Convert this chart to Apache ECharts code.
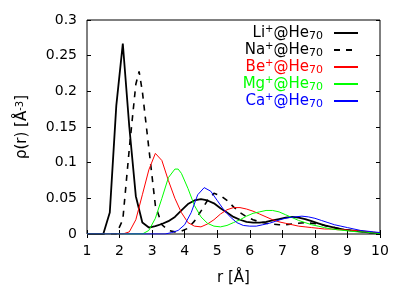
<!DOCTYPE html>
<html><head><meta charset="utf-8">
<script src="https://cdn.jsdelivr.net/npm/echarts@6/dist/echarts.min.js"></script>
<style>html,body{margin:0;padding:0;background:#fff}#c{width:409px;height:286px}</style>
</head><body><div id="c"></div>
<script>
// ---- data ----
const xTicks = [1, 2, 3, 4, 5, 6, 7, 8, 9, 10];
const yTicks = [0, 0.05, 0.1, 0.15, 0.2, 0.25, 0.3];

const rLi   = [1.0,1.5,1.7,1.9,2.1,2.3,2.5,2.7,2.9,3.1,3.3,3.5,3.7,3.9,4.1,4.3,4.5,4.7,4.9,5.1,5.3,5.5,5.7,5.9,6.1,6.3,6.5,6.7,6.9,7.1,7.3,7.5,7.7,7.9,8.1,8.3,8.5,8.7,8.9,9.1,9.3,9.5,9.7,10.0];
const rhoLi = [0,0,0.03,0.18,0.267,0.15,0.053,0.016,0.009,0.011,0.014,0.018,0.024,0.033,0.042,0.047,0.049,0.047,0.043,0.036,0.030,0.024,0.020,0.017,0.016,0.016,0.017,0.019,0.021,0.023,0.024,0.023,0.021,0.018,0.015,0.012,0.010,0.008,0.006,0.005,0.004,0.003,0.002,0.001];

const rNa   = [1.0,1.9,2.1,2.3,2.5,2.6,2.7,2.9,3.1,3.3,3.5,3.7,3.9,4.1,4.3,4.5,4.7,4.9,5.1,5.3,5.5,5.7,5.9,6.1,6.3,6.5,6.7,6.9,7.1,7.3,7.5,7.7,7.9,8.1,8.3,8.5,8.7,8.9,9.1,9.3,9.5,9.7,10.0];
const rhoNa = [0,0,0.02,0.12,0.21,0.228,0.2,0.12,0.04,0.013,0.005,0.003,0.004,0.008,0.018,0.032,0.047,0.057,0.054,0.047,0.038,0.030,0.024,0.020,0.017,0.015,0.014,0.013,0.013,0.014,0.015,0.016,0.015,0.014,0.012,0.010,0.008,0.006,0.005,0.004,0.003,0.002,0.001];

const rBe   = [1.0,2.1,2.3,2.5,2.7,2.9,3.1,3.3,3.5,3.7,3.9,4.1,4.3,4.5,4.7,4.9,5.1,5.3,5.5,5.7,5.9,6.1,6.3,6.5,6.7,6.9,7.1,7.3,7.5,7.7,7.9,8.1,8.3,8.5,8.7,8.9,9.1,9.3,9.5,9.7,9.9,10.0];
const rhoBe = [0,0,0.003,0.02,0.055,0.09,0.113,0.103,0.075,0.05,0.03,0.016,0.011,0.010,0.014,0.020,0.028,0.034,0.037,0.037,0.035,0.032,0.028,0.024,0.020,0.017,0.015,0.013,0.011,0.010,0.009,0.008,0.007,0.007,0.006,0.006,0.005,0.005,0.004,0.003,0.002,0.002];

const rMg   = [1.0,2.7,2.9,3.1,3.3,3.5,3.7,3.8,3.9,4.1,4.3,4.5,4.7,4.9,5.1,5.3,5.5,5.7,5.9,6.1,6.3,6.5,6.7,6.9,7.1,7.3,7.5,7.7,7.9,8.1,8.3,8.5,8.7,8.9,9.1,9.3,9.5,9.7,9.9,10.0];
const rhoMg = [0,0,0.005,0.022,0.05,0.079,0.091,0.091,0.085,0.064,0.04,0.024,0.015,0.011,0.010,0.012,0.016,0.020,0.025,0.029,0.031,0.033,0.033,0.031,0.027,0.023,0.019,0.016,0.013,0.011,0.009,0.007,0.006,0.005,0.004,0.003,0.003,0.002,0.001,0.001];

const rCa   = [1.0,3.4,3.6,3.8,4.0,4.2,4.4,4.6,4.8,5.0,5.2,5.4,5.6,5.8,6.0,6.2,6.4,6.6,6.8,7.0,7.2,7.4,7.6,7.8,8.0,8.2,8.4,8.6,8.8,9.0,9.2,9.4,9.6,9.8,10.0];
const rhoCa = [0,0,0.002,0.005,0.013,0.03,0.055,0.065,0.060,0.047,0.034,0.024,0.016,0.012,0.011,0.011,0.013,0.015,0.018,0.021,0.023,0.024,0.025,0.024,0.022,0.019,0.016,0.013,0.011,0.009,0.007,0.005,0.004,0.003,0.002];

const ions = ['Li', 'Na', 'Be', 'Mg', 'Ca'];

// ---- styles ----
const FONT = 'DejaVu Sans';
const defs = [
  {key:'Li', r:rLi, rho:rhoLi, color:'#000000', width:1.8, type:'solid'},
  {key:'Na', r:rNa, rho:rhoNa, color:'#000000', width:1.6, type:[6,6]},
  {key:'Be', r:rBe, rho:rhoBe, color:'#ff0000', width:1, type:'solid'},
  {key:'Mg', r:rMg, rho:rhoMg, color:'#00ff00', width:1, type:'solid'},
  {key:'Ca', r:rCa, rho:rhoCa, color:'#0000ff', width:1, type:'solid'}
];

const series = defs.map(d => ({
  name: d.key, type: 'line', xAxisIndex: 0, yAxisIndex: 0,
  data: d.r.map((x, i) => [x, d.rho[i]]),
  symbol: 'none', showSymbol: false, smooth: false,
  lineStyle: {color: d.color, width: d.width, type: d.type},
  itemStyle: {color: d.color},
  animation: false
}));

const axisCommonX = {type:'value', min:xTicks[0], max:xTicks[xTicks.length-1], interval:1,
  axisLine:{show:false}, splitLine:{show:false},
  axisTick:{show:true, inside:true, length:4, lineStyle:{color:'#000'}}};
const axisCommonY = {type:'value', min:yTicks[0], max:yTicks[yTicks.length-1], interval:0.05,
  axisLine:{show:false}, splitLine:{show:false},
  axisTick:{show:true, inside:true, length:4, lineStyle:{color:'#000'}}};

const chart = echarts.init(document.getElementById('c'), null, {renderer:'canvas'});
chart.setOption({
  animation: false,
  backgroundColor: '#fff',
  grid: {left:87, right:29, top:20, bottom:52, containLabel:false, outerBoundsMode:'none',
    show:true, borderColor:'#000', borderWidth:1, backgroundColor:'transparent'},
  xAxis: [
    Object.assign({}, axisCommonX, {position:'bottom',
      axisLabel:{show:true, margin:10, fontFamily:FONT, fontSize:14, color:'#000'},
      name:'r [Å]', nameLocation:'middle', nameGap:37,
      nameTextStyle:{fontFamily:FONT, fontSize:15, color:'#000'}}),
    Object.assign({}, axisCommonX, {position:'top', axisLabel:{show:false}})
  ],
  yAxis: [
    Object.assign({}, axisCommonY, {position:'left',
      axisLabel:{show:true, margin:10, fontFamily:FONT, fontSize:14, color:'#000'},
      name:'ρ(r) [Å{sup|-3}]', nameLocation:'middle', nameGap:57,
      nameTextStyle:{fontFamily:FONT, fontSize:15, color:'#000',
        rich:{sup:{fontFamily:FONT, fontSize:10, color:'#000', verticalAlign:'top', lineHeight:10}}}}),
    Object.assign({}, axisCommonY, {position:'right', axisLabel:{show:false}})
  ],
  legend: {
    orient:'vertical', right:50, top:24, padding:0, itemGap:-1,
    align:'right', itemWidth:24, itemHeight:14,
    itemStyle: {opacity: 0},
    data: defs.map(d => ({name:d.key, textStyle:{color:d.color}})),
    formatter: name => name + '{sup|+}@He{sub|70}{g|}',
    textStyle: {fontFamily:FONT, fontSize:15, lineHeight:18,
      rich:{
        sup:{fontFamily:FONT, fontSize:10, lineHeight:9, verticalAlign:'top'},
        sub:{fontFamily:FONT, fontSize:11, lineHeight:9, verticalAlign:'bottom'},
        g:{width:6}
      }}
  },
  series: series
});
</script></body></html>
